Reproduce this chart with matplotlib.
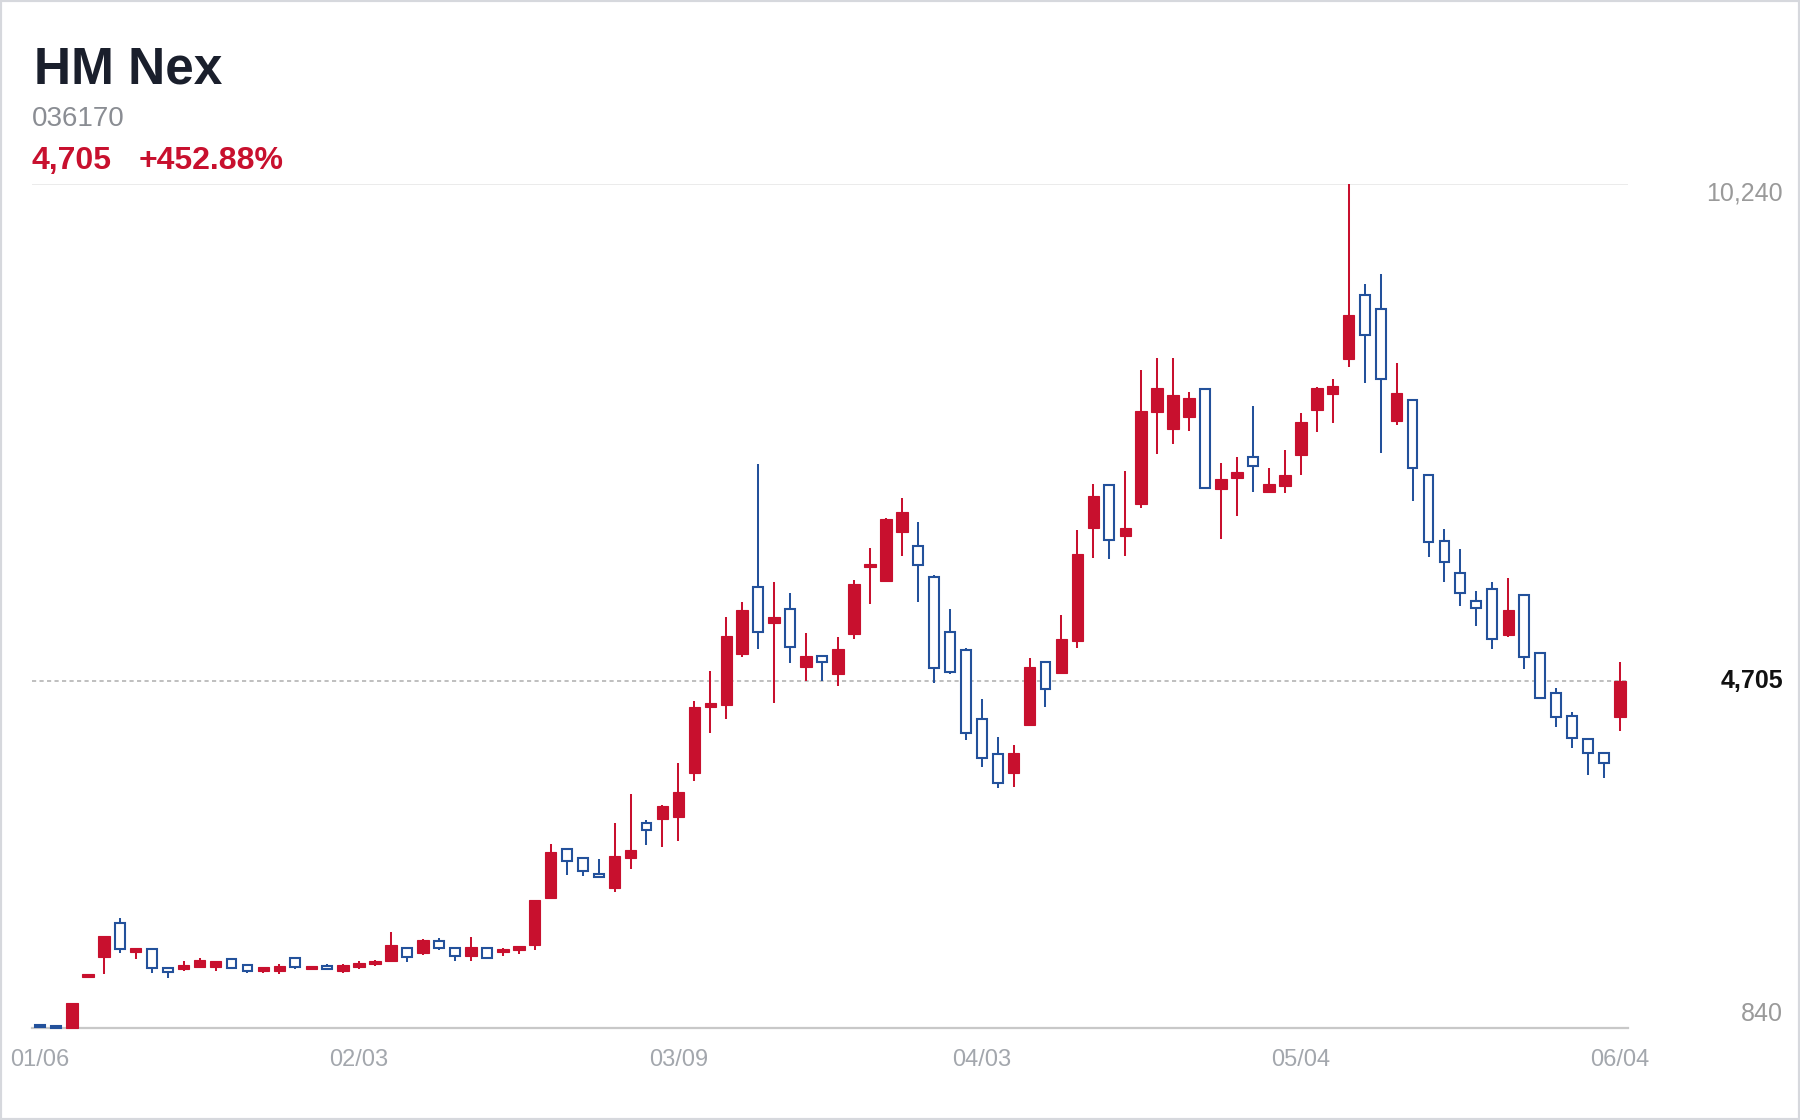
import numpy as np
import matplotlib
matplotlib.use("Agg")
import matplotlib.pyplot as plt
from matplotlib.patches import Rectangle
import matplotlib.transforms as mtransforms

"""DATA (read off the chart)"""
name = "HM Nex"
code = "036170"
last_price = "4,705"
change = "+452.88%"

opens = [870, 860, 840, 1405, 1627, 2013, 1690, 1716, 1508, 1494,
         1523, 1523, 1608, 1542, 1471, 1478, 1623, 1494, 1527, 1471,
         1523, 1549, 1590, 1731, 1675, 1813, 1731, 1638, 1731, 1690,
         1712, 1760, 2284, 2833, 2737, 2552, 2396, 2730, 3123, 3164,
         3194, 3676, 4411, 4434, 5002, 5748, 5354, 5510, 4857, 4983,
         4787, 5224, 5971, 5821, 6360, 6208, 5859, 5254, 5046, 4278,
         3892, 3683, 4214, 4913, 4790, 5154, 6405, 6887, 6323, 6672,
         7697, 7508, 7648, 7953, 6843, 6962, 7203, 6813, 6880, 7222,
         7723, 7897, 8290, 9004, 8848, 7603, 7834, 6999, 6268, 5903,
         5600, 5734, 5217, 5659, 5013, 4574, 4318, 4059, 3899, 4300]

closes = [851, 845, 1115, 1440, 1868, 1720, 1728, 1505, 1464, 1542,
          1601, 1586, 1505, 1478, 1516, 1530, 1523, 1527, 1494, 1542,
          1568, 1590, 1760, 1631, 1816, 1731, 1638, 1742, 1616, 1723,
          1749, 2262, 2803, 2700, 2592, 2525, 2755, 2822, 3045, 3313,
          3465, 4411, 4456, 5209, 5491, 5247, 5421, 5082, 4983, 4920,
          5058, 5781, 6008, 6508, 6583, 5996, 4846, 4808, 4129, 3850,
          3565, 3906, 4857, 4612, 5172, 6120, 6768, 6275, 6412, 7712,
          7971, 7890, 7860, 6851, 6951, 7036, 7099, 6899, 6999, 7593,
          7971, 7990, 8781, 8558, 8068, 7908, 7080, 6256, 6027, 5681,
          5521, 5172, 5499, 4968, 4512, 4300, 4066, 3906, 3788, 4705]

highs = [875, 870, 1115, 1445, 1868, 2068, 1735, 1716, 1508, 1586,
         1623, 1590, 1623, 1542, 1520, 1553, 1630, 1530, 1553, 1553,
         1586, 1601, 1905, 1735, 1835, 1842, 1735, 1853, 1735, 1731,
         1753, 2270, 2889, 2840, 2740, 2719, 3120, 3446, 3157, 3320,
         3788, 4485, 4819, 5421, 5581, 7121, 5811, 5688, 5243, 4990,
         5198, 5829, 6182, 6515, 6739, 6478, 5885, 5503, 5076, 4501,
         4077, 3992, 4957, 4920, 5440, 6387, 6899, 6895, 7047, 8168,
         8298, 8298, 7920, 7960, 7129, 7199, 7767, 7080, 7278, 7686,
         7983, 8068, 10240, 9123, 9238, 8242, 7840, 7005, 6397, 6171,
         5711, 5811, 5848, 5665, 5013, 4623, 4363, 4066, 3899, 4919]

lows = [855, 840, 840, 1400, 1441, 1672, 1612, 1450, 1400, 1478,
        1520, 1471, 1500, 1450, 1450, 1445, 1500, 1494, 1494, 1450,
        1500, 1530, 1590, 1575, 1653, 1709, 1582, 1582, 1605, 1638,
        1668, 1712, 2273, 2544, 2533, 2520, 2351, 2614, 2878, 2860,
        2926, 3594, 4122, 4278, 4976, 5058, 4456, 4909, 4708, 4708,
        4652, 5172, 5562, 5811, 6100, 5587, 4680, 4779, 4047, 3750,
        3510, 3528, 4207, 4418, 4785, 5069, 6071, 6060, 6100, 6628,
        7233, 7344, 7492, 6845, 6283, 6542, 6806, 6800, 6802, 6999,
        7474, 7581, 8205, 8020, 7240, 7556, 6713, 6082, 5804, 5540,
        5321, 5058, 5198, 4835, 4512, 4189, 3955, 3658, 3621, 4151]

tick_pos = [0, 20, 40, 59, 79, 99]
tick_labels = ["01/06", "02/03", "03/09", "04/03", "05/04", "06/04"]

y_min, y_max = 840, 10240
y_last = 4705

RED = "#c8102e"
BLUE = "#23519b"

plt.rcParams['font.family'] = ['Liberation Sans', 'DejaVu Sans']

fig = plt.figure(figsize=(18, 11.2), dpi=100, facecolor='w')
ax = fig.add_axes([32/1800, 1 - 1028/1120, 1596/1800, 844/1120])

x = np.arange(len(opens))
o = np.array(opens, dtype=float)
c = np.array(closes, dtype=float)
h = np.array(highs, dtype=float)
l = np.array(lows, dtype=float)
up = c >= o
minh = 20  # so flat candles still show
body_bot = np.minimum(o, c)
body_h = np.maximum(np.abs(c - o), minh)

# wicks
ax.vlines(x[up], l[up], h[up], color=RED, lw=1.45, zorder=2, clip_on=False)
ax.vlines(x[~up], l[~up], h[~up], color=BLUE, lw=1.45, zorder=2, clip_on=False)
# bodies
ax.bar(x[up], body_h[up], bottom=body_bot[up], width=0.72, color=RED,
       edgecolor=RED, lw=0.8, zorder=3, clip_on=False)
ax.bar(x[~up], body_h[~up], bottom=body_bot[~up], width=0.62, color='white',
       edgecolor=BLUE, lw=1.5, zorder=3, clip_on=False)

ax.axhline(y_last, color='#b4b4b4', lw=1.2, dashes=(2.5, 2), zorder=1)
ax.axhline(y_max, color='#e8e8e8', lw=1.2, zorder=0)

ax.set_xlim(-0.5, len(opens) - 0.5)
ax.set_ylim(y_min, y_max)
for spine in ('top', 'right', 'left'):
    ax.spines[spine].set_visible(False)
ax.spines['bottom'].set_color('#c8c8c8')
ax.spines['bottom'].set_linewidth(1.6)
ax.set_yticks([])
ax.set_xticks(tick_pos)
ax.set_xticklabels(tick_labels, fontsize=17, color='#a3a7ad')
ax.tick_params(axis='x', length=0, pad=15)

# price labels on the right
trans = mtransforms.blended_transform_factory(ax.transAxes, ax.transData)
xr = (1783 - 32) / 1596
ax.annotate("10,240", xy=(xr, y_max), xycoords=trans, xytext=(0, -10),
            textcoords='offset pixels', ha='right', va='center',
            fontsize=18, color='#9a9a9a')
ax.annotate("840", xy=(xr, y_min), xycoords=trans, xytext=(0, 14),
            textcoords='offset pixels', ha='right', va='center',
            fontsize=18, color='#9a9a9a')
ax.annotate(last_price, xy=(xr, y_last), xycoords=trans, ha='right',
            va='center', fontsize=18, color='#111111', fontweight='bold')

# header
fig.text(34/1800, 1 - 83/1120, name, fontsize=37, fontweight='bold',
         color='#1a1f2c', va='baseline')
fig.text(32/1800, 1 - 126/1120, code, fontsize=20, color='#8a8d93',
         va='baseline')
fig.text(32/1800, 1 - 169/1120, last_price, fontsize=23, fontweight='bold',
         color=RED, va='baseline')
fig.text(139/1800, 1 - 169/1120, change, fontsize=23, fontweight='bold',
         color=RED, va='baseline')

fig.add_artist(Rectangle((0, 0), 1, 1, transform=fig.transFigure, fill=False,
                         edgecolor='#d6d8dd', lw=3))

fig.savefig('out.png', dpi=100, facecolor='w')
